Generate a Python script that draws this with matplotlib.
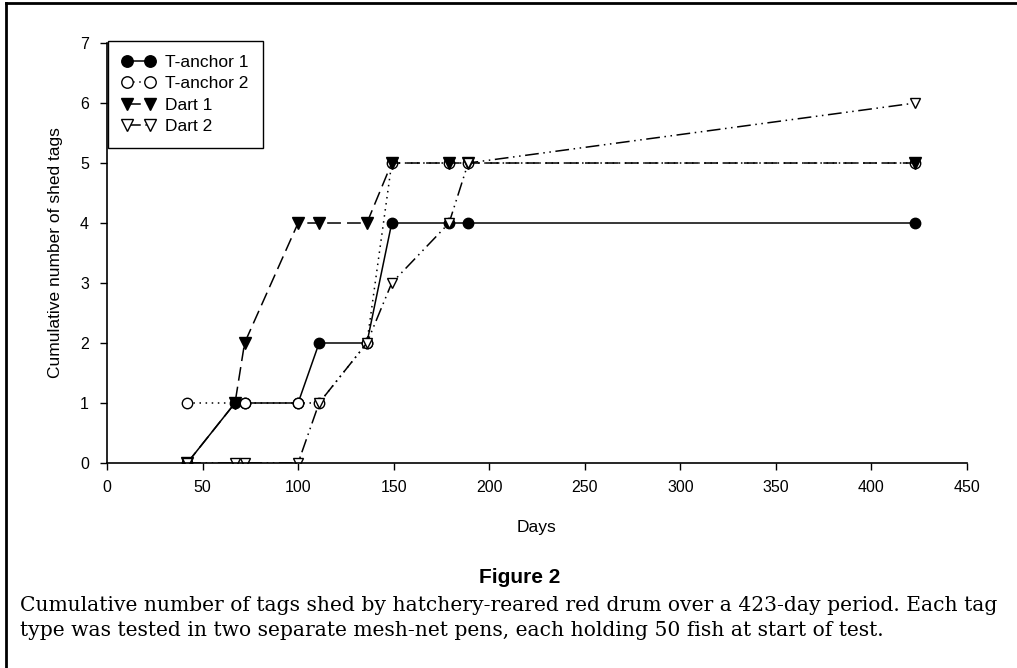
import matplotlib
matplotlib.use("Agg")
import matplotlib.pyplot as plt
from matplotlib.lines import Line2D

plt.rcParams['font.family'] = ['Liberation Sans', 'DejaVu Sans']

# sampling days and cumulative tags shed, per pen
days_t1 = [42, 67, 72, 100, 111, 136, 149, 179, 189, 423]
tanchor1 = [0, 1, 1, 1, 2, 2, 4, 4, 4, 4]
days_t2 = [42, 72, 100, 111, 136, 149, 179, 189, 423]
tanchor2 = [1, 1, 1, 1, 2, 5, 5, 5, 5]
days_d1 = [42, 67, 72, 100, 111, 136, 149, 179, 189, 423]
dart1 = [0, 1, 2, 4, 4, 4, 5, 5, 5, 5]
days_d2 = [42, 67, 72, 100, 111, 136, 149, 179, 189, 423]
dart2 = [0, 0, 0, 0, 1, 2, 3, 4, 5, 6]

xticks = list(range(0, 451, 50))
yticks = list(range(0, 8))

fig = plt.figure(figsize=(10.17, 6.68), dpi=100)
ax = fig.add_axes([0.1052, 0.3069, 0.8456, 0.6287])

ax.plot(days_t1, tanchor1, color='black', lw=1.1, ls='-', marker='o', ms=7.5,
        mfc='black', mec='black', label='T-anchor 1')
ax.plot(days_t2, tanchor2, color='black', lw=1.1, ls=(0, (1, 3)), marker='o', ms=7.5,
        mfc='white', mec='black', mew=1.0, label='T-anchor 2')
ax.plot(days_d1, dart1, color='black', lw=1.1, ls=(0, (9, 4)), marker='v', ms=8,
        mfc='black', mec='black', label='Dart 1')
ax.plot(days_d2, dart2, color='black', lw=1.1, ls=(0, (9, 3, 1, 3, 1, 3)), marker='v', ms=7.5,
        mfc='white', mec='black', mew=1.0, label='Dart 2')

ax.set_xlim(0, 450)
ax.set_ylim(0, 7)
ax.set_xticks(xticks)
ax.set_yticks(yticks)
ax.tick_params(axis='both', direction='out', length=5, width=1, labelsize=11.5, colors='black')
ax.tick_params(axis='x', pad=7)
ax.tick_params(axis='y', pad=8)
for s in ['top', 'right']:
    ax.spines[s].set_visible(False)
for s in ['left', 'bottom']:
    ax.spines[s].set_linewidth(1.2)

ax.set_xlabel('Days', fontsize=12.5, labelpad=18)
ax.set_ylabel('Cumulative number of shed tags', fontsize=12.5, labelpad=12)

leg = ax.legend(loc='upper left', bbox_to_anchor=(0.001, 1.005), fontsize=12.5,
                frameon=True, fancybox=False, edgecolor='black', framealpha=1,
                handlelength=1.9, handletextpad=0.6, borderpad=0.8, labelspacing=0.36,
                numpoints=2, borderaxespad=0, markerscale=1.1)
leg.get_frame().set_linewidth(1.0)

fig.text(0.511, 0.136, 'Figure 2', ha='center', va='center', fontsize=15,
         fontweight='bold')
fig.text(0.02, 0.094, 'Cumulative number of tags shed by hatchery-reared red drum over a 423-day period. Each tag',
         ha='left', va='center', fontsize=14.6, family='DejaVu Serif')
fig.text(0.02, 0.056, 'type was tested in two separate mesh-net pens, each holding 50 fish at start of test.',
         ha='left', va='center', fontsize=14.6, family='DejaVu Serif')

# outer frame (top and left edges)
fig.add_artist(Line2D([0.006, 1.0], [0.995, 0.995], color='black', lw=2.0, transform=fig.transFigure))
fig.add_artist(Line2D([0.006, 0.006], [0.0, 0.995], color='black', lw=2.0, transform=fig.transFigure))

fig.savefig('out.png', dpi=100)
